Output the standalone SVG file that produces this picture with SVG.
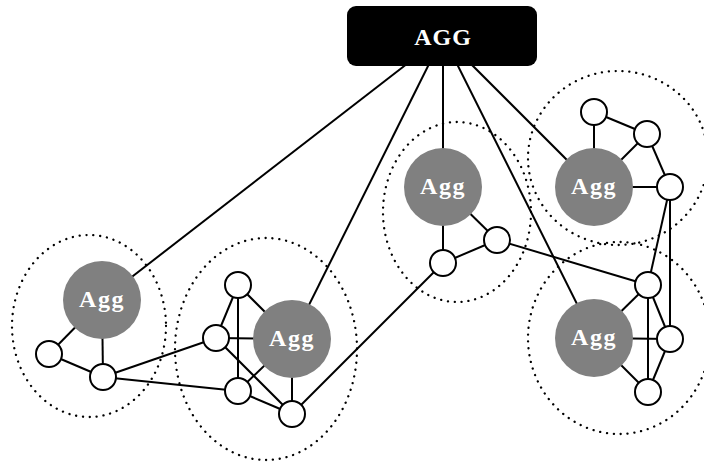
<svg xmlns="http://www.w3.org/2000/svg" width="704" height="467" viewBox="0 0 704 467">
<style>
.cl{fill:none;stroke:#000;stroke-width:2.3;stroke-linecap:round;stroke-dasharray:0.1 6.8}
.e{stroke:#000;stroke-width:2;fill:none}
.agg{fill:#808080}
.n{fill:#fff;stroke:#000;stroke-width:2}
.t{font-family:"Liberation Serif","DejaVu Serif",serif;font-weight:bold;font-size:24px;fill:#fff;text-anchor:middle}
.a{letter-spacing:1.5px}
</style>
<rect width="704" height="467" fill="#fff"/>
<g id="clusters">
<ellipse class="cl" cx="89" cy="326" rx="77" ry="91"/>
<ellipse class="cl" cx="266" cy="349" rx="91" ry="111"/>
<ellipse class="cl" cx="457" cy="212" rx="74" ry="90"/>
<ellipse class="cl" cx="618" cy="158" rx="90" ry="87"/>
<ellipse class="cl" cx="619" cy="338" rx="91" ry="96"/>
</g>
<g id="connectors" class="e">
<line x1="443" y1="36" x2="102" y2="300"/>
<line x1="443" y1="36" x2="292" y2="339"/>
<line x1="443" y1="36" x2="443" y2="187"/>
<line x1="443" y1="36" x2="594" y2="338"/>
<line x1="443" y1="36" x2="594" y2="187"/>
<line x1="102" y1="300" x2="49" y2="354"/>
<line x1="102" y1="300" x2="103" y2="377"/>
<line x1="49" y1="354" x2="103" y2="377"/>
<line x1="103" y1="377" x2="216" y2="338"/>
<line x1="103" y1="377" x2="238" y2="391"/>
<line x1="238" y1="285" x2="216" y2="338"/>
<line x1="238" y1="285" x2="238" y2="391"/>
<line x1="238" y1="285" x2="292" y2="339"/>
<line x1="216" y1="338" x2="292" y2="339"/>
<line x1="216" y1="338" x2="292" y2="414"/>
<line x1="238" y1="391" x2="292" y2="339"/>
<line x1="238" y1="391" x2="292" y2="414"/>
<line x1="292" y1="339" x2="292" y2="414"/>
<line x1="292" y1="414" x2="443" y2="263"/>
<line x1="443" y1="187" x2="443" y2="263"/>
<line x1="443" y1="187" x2="497" y2="240"/>
<line x1="443" y1="263" x2="497" y2="240"/>
<line x1="497" y1="240" x2="648" y2="285"/>
<line x1="594" y1="187" x2="594" y2="112"/>
<line x1="594" y1="112" x2="647" y2="134"/>
<line x1="594" y1="187" x2="647" y2="134"/>
<line x1="647" y1="134" x2="670" y2="187"/>
<line x1="594" y1="187" x2="670" y2="187"/>
<line x1="670" y1="187" x2="648" y2="285"/>
<line x1="670" y1="187" x2="670" y2="339"/>
<line x1="594" y1="338" x2="648" y2="285"/>
<line x1="594" y1="338" x2="670" y2="339"/>
<line x1="594" y1="338" x2="648" y2="392"/>
<line x1="648" y1="285" x2="648" y2="392"/>
<line x1="648" y1="285" x2="670" y2="339"/>
<line x1="670" y1="339" x2="648" y2="392"/>
</g>
<g id="AGG"><rect x="347" y="6" width="190" height="60" rx="9" fill="#000"/><text class="t" x="443" y="45" font-size="25" letter-spacing="1">AGG</text></g>
<g id="agg1"><circle class="agg" cx="102" cy="300" r="39"/><text class="t a" x="102" y="307">Agg</text></g>
<g id="agg2"><circle class="agg" cx="292" cy="339" r="39"/><text class="t a" x="292" y="346">Agg</text></g>
<g id="agg3"><circle class="agg" cx="443" cy="187" r="39"/><text class="t a" x="443" y="194">Agg</text></g>
<g id="agg4"><circle class="agg" cx="594" cy="187" r="39"/><text class="t a" x="594" y="194">Agg</text></g>
<g id="agg5"><circle class="agg" cx="594" cy="338" r="39"/><text class="t a" x="594" y="345">Agg</text></g>
<g id="n1a"><circle class="n" cx="49" cy="354" r="13"/></g>
<g id="n1b"><circle class="n" cx="103" cy="377" r="13"/></g>
<g id="n2a"><circle class="n" cx="238" cy="285" r="13"/></g>
<g id="n2b"><circle class="n" cx="216" cy="338" r="13"/></g>
<g id="n2c"><circle class="n" cx="238" cy="391" r="13"/></g>
<g id="n2d"><circle class="n" cx="292" cy="414" r="13"/></g>
<g id="n3a"><circle class="n" cx="443" cy="263" r="13"/></g>
<g id="n3b"><circle class="n" cx="497" cy="240" r="13"/></g>
<g id="n4a"><circle class="n" cx="594" cy="112" r="13"/></g>
<g id="n4b"><circle class="n" cx="647" cy="134" r="13"/></g>
<g id="n4c"><circle class="n" cx="670" cy="187" r="13"/></g>
<g id="n5a"><circle class="n" cx="648" cy="285" r="13"/></g>
<g id="n5b"><circle class="n" cx="670" cy="339" r="13"/></g>
<g id="n5c"><circle class="n" cx="648" cy="392" r="13"/></g>
</svg>
